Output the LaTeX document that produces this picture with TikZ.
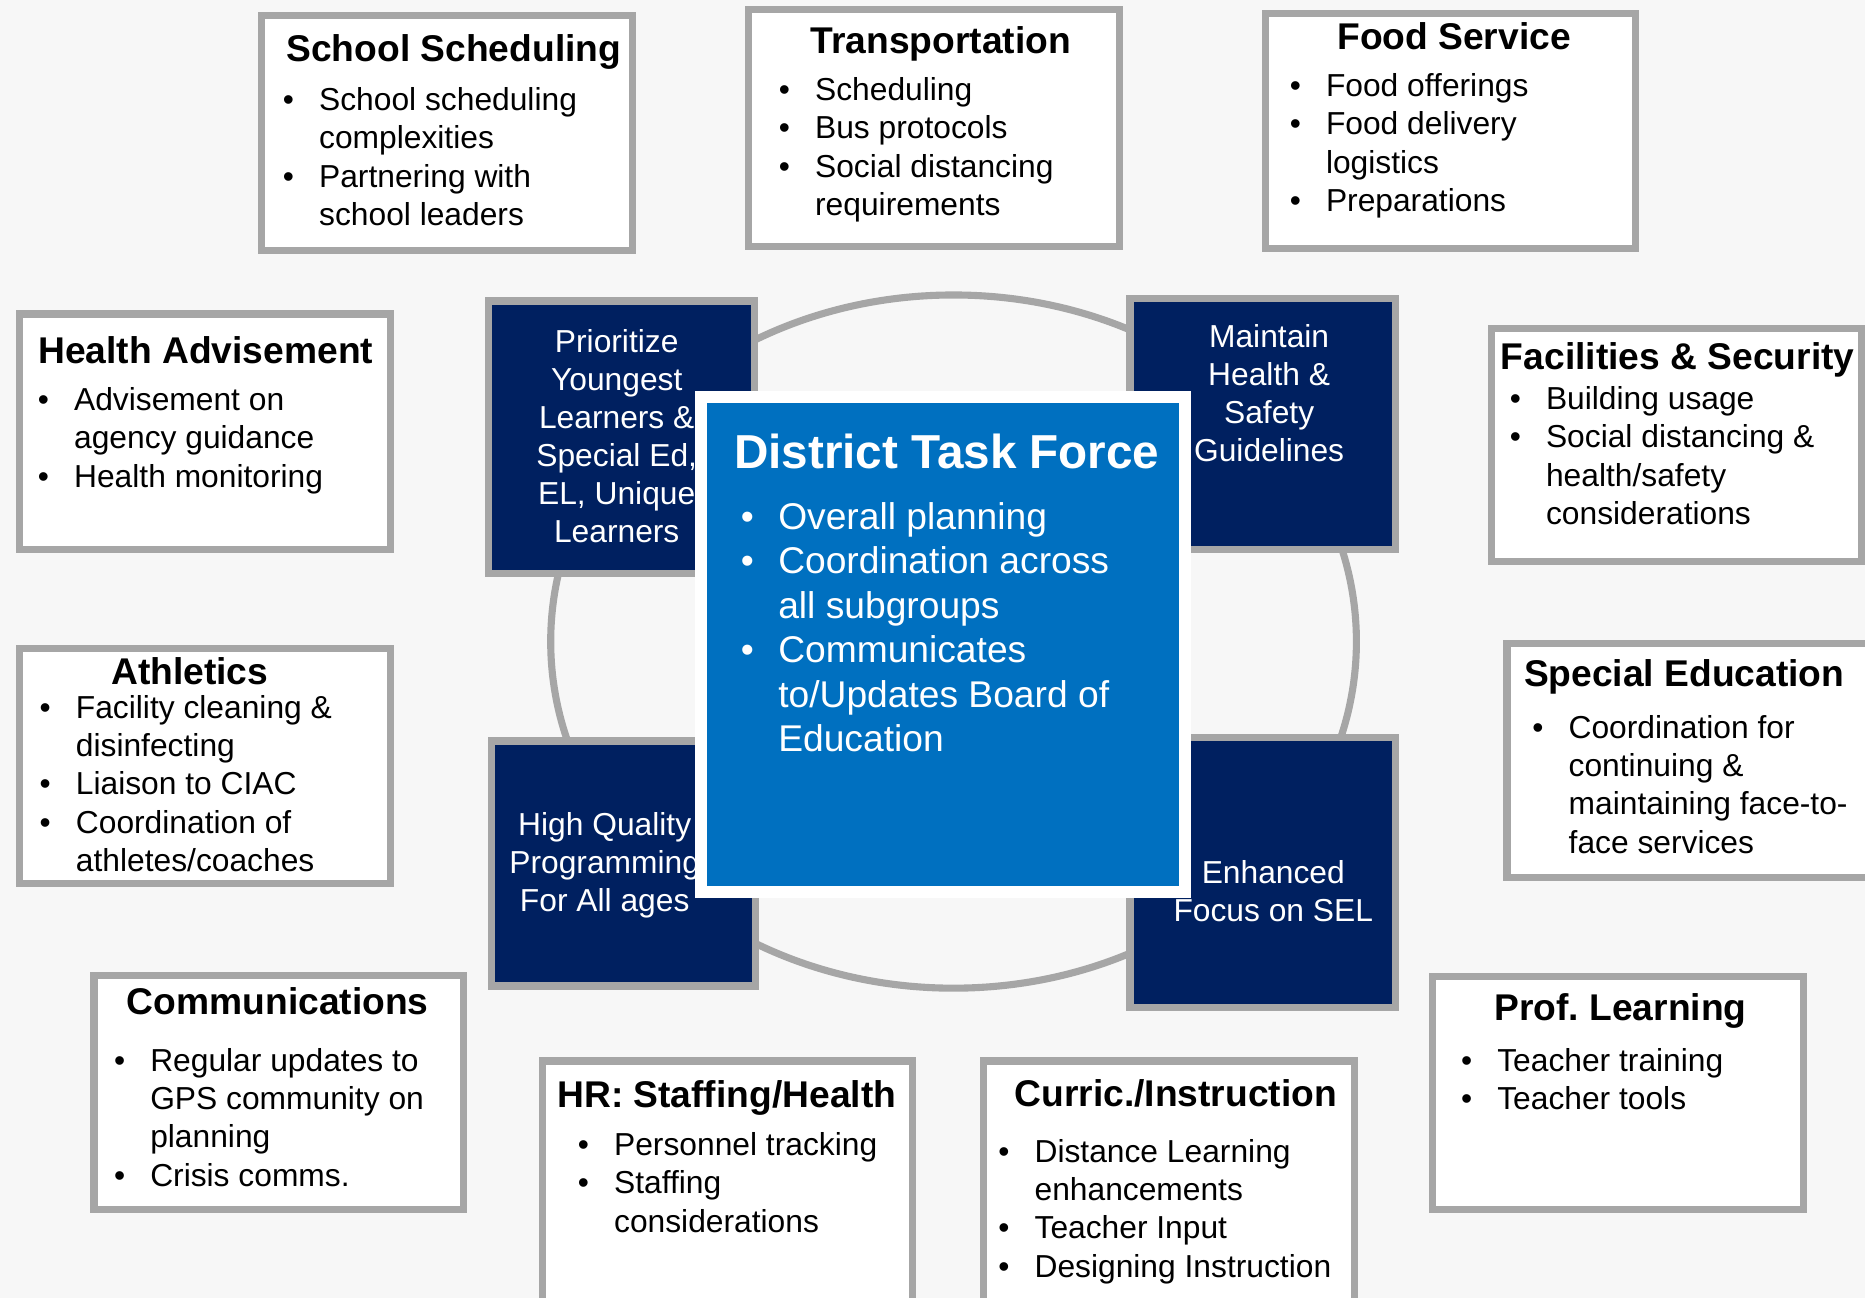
\documentclass[tikz,border=0pt]{standalone}
\usepackage{fontspec}
\setmainfont{Liberation Sans}
\frenchspacing
\definecolor{PanelGray}{HTML}{A6A6A6}
\definecolor{PageGray}{HTML}{F7F7F7}
\definecolor{TFNavy}{HTML}{002060}
\definecolor{TFBlue}{HTML}{0070C0}
\newcommand{\bulletrows}[2][0.61cm]{\begin{tabular}[t]{@{}p{#1}@{}l@{}}#2\end{tabular}}
\newcommand{\stackrows}[1]{\begin{tabular}[t]{@{}c@{}}#1\end{tabular}}
\tikzset{
    panel/.style = {draw=PanelGray, fill=white, line width=3.4pt, inner sep=0pt},
    pillar/.style = {draw=PanelGray, fill=TFNavy, line width=3.4pt, inner sep=0pt},
    core/.style = {draw=white, fill=TFBlue, line width=5.7pt, inner sep=0pt},
    head/.style = {anchor=base, inner sep=0pt, font=\fontsize{17.8}{21}\selectfont\bfseries},
    items/.style = {anchor=base west, inner sep=0pt, font=\fontsize{15.2}{18.4}\selectfont},
    pillartext/.style = {anchor=base, inner sep=0pt, text=white, font=\fontsize{15.2}{18.2}\selectfont}
}
\begin{document}
\begin{tikzpicture}[x=0.02cm, y=-0.02cm]
        \useasboundingbox (0,0) rectangle (1568,1091);
        \clip (0,0) rectangle (1568,1091);
        \fill[PageGray] (0,0) rectangle (1568,1091);
        % ring behind the four pillars
        \draw[PanelGray, line width=3.4pt] (801.7,539.4) ellipse [x radius=338.7, y radius=291.4];
        % pillars
        \node[pillar, minimum width=4.46cm, minimum height=4.58cm] (youngest) at (522.5,367.5) {};
        \node[pillartext] (youngestT) at (518.5,296) {\stackrows{Prioritize\\Youngest\\Learners \&\\Special Ed,\\EL, Unique\\Learners}};
        \node[pillar, minimum width=4.46cm, minimum height=4.22cm] (safety) at (1061.5,356.5) {};
        \node[pillartext] (safetyT) at (1067,292) {\stackrows{Maintain\\Health \&\\Safety\\Guidelines}};
        \node[pillar, minimum width=4.44cm, minimum height=4.12cm] (quality) at (524,726) {};
        \node[pillartext] (qualityT) at (508.4,702.4) {\stackrows{High Quality\\Programming\\For All ages}};
        \node[pillar, minimum width=4.46cm, minimum height=4.54cm] (sel) at (1061.5,733.5) {};
        \node[pillartext] (selT) at (1070.5,742.5) {\stackrows{Enhanced\\Focus on SEL}};
        % task force
        \node[core, minimum width=8.14cm, minimum height=8.32cm] (taskforce) at (792.5,542) {};
        \node[anchor=base, inner sep=0pt, text=white, font=\fontsize{22.8}{27}\selectfont\bfseries] (taskforceT) at (796,394) {District Task Force};
        \node[items, text=white, font=\fontsize{17.8}{21.3}\selectfont] (taskforceL) at (622.5,445) {\bulletrows[0.63cm]{\textbullet & Overall planning\\ \textbullet & Coordination across\\ & all subgroups\\ \textbullet & Communicates\\ & to/Updates Board of\\ & Education}};
        % subgroups
        \node[panel, minimum width=6.24cm, minimum height=3.96cm] (sched) at (376,112) {};
        \node[head] (schedT) at (381.5,52) {School Scheduling};
        \node[items] (schedL) at (237.5,92.7) {\bulletrows{\textbullet & School scheduling\\ & complexities\\ \textbullet & Partnering with\\ & school leaders}};
        \node[panel, minimum width=6.24cm, minimum height=3.98cm] (trans) at (785,107.5) {};
        \node[head] (transT) at (791,45) {Transportation};
        \node[items] (transL) at (654.5,84.3) {\bulletrows{\textbullet & Scheduling\\ \textbullet & Bus protocols\\ \textbullet & Social distancing\\ & requirements}};
        \node[panel, minimum width=6.22cm, minimum height=3.96cm] (food) at (1219.5,110) {};
        \node[head] (foodT) at (1222.5,42) {Food Service};
        \node[items] (foodL) at (1084,81) {\bulletrows{\textbullet & Food offerings\\ \textbullet & Food delivery\\ & logistics\\ \textbullet & Preparations}};
        \node[panel, minimum width=6.24cm, minimum height=3.96cm] (health) at (172,363) {};
        \node[head] (healthT) at (173,306) {Health Advisement};
        \node[items] (healthL) at (31.5,345) {\bulletrows{\textbullet & Advisement on\\ & agency guidance\\ \textbullet & Health monitoring}};
        \node[panel, minimum width=6.22cm, minimum height=3.92cm] (facil) at (1409.5,374) {};
        \node[head] (facilT) at (1410.5,310.5) {Facilities \& Security};
        \node[items] (facilL) at (1269,344.3) {\bulletrows{\textbullet & Building usage\\ \textbullet & Social distancing \&\\ & health/safety\\ & considerations}};
        \node[panel, minimum width=6.24cm, minimum height=3.96cm] (athl) at (172,644) {};
        \node[head] (athlT) at (159.5,575.6) {Athletics};
        \node[items] (athlL) at (33,603.7) {\bulletrows{\textbullet & Facility cleaning \&\\ & disinfecting\\ \textbullet & Liaison to CIAC\\ \textbullet & Coordination of\\ & athletes/coaches}};
        \node[panel, minimum width=6.30cm, minimum height=3.94cm] (sped) at (1424.5,639.5) {};
        \node[head] (spedT) at (1416,577.5) {Special Education};
        \node[items] (spedL) at (1288,620.5) {\bulletrows{\textbullet & Coordination for\\ & continuing \&\\ & maintaining face-to-\\ & face services}};
        \node[panel, minimum width=6.22cm, minimum height=3.94cm] (comm) at (234.5,918.5) {};
        \node[head] (commT) at (233.5,852.7) {Communications};
        \node[items] (commL) at (95.5,900.5) {\bulletrows{\textbullet & Regular updates to\\ & GPS community on\\ & planning\\ \textbullet & Crisis comms.}};
        \node[panel, minimum width=6.22cm, minimum height=4.30cm] (hr) at (611.5,999.5) {};
        \node[head] (hrT) at (611,931.2) {HR: Staffing/Health};
        \node[items] (hrL) at (485.5,971.5) {\bulletrows{\textbullet & Personnel tracking\\ \textbullet & Staffing\\ & considerations}};
        \node[panel, minimum width=6.24cm, minimum height=4.30cm] (curric) at (983,999.5) {};
        \node[head] (curricT) at (988.5,930.5) {Curric./Instruction};
        \node[items] (curricL) at (839,977) {\bulletrows{\textbullet & Distance Learning\\ & enhancements\\ \textbullet & Teacher Input\\ \textbullet & Designing Instruction}};
        \node[panel, minimum width=6.24cm, minimum height=3.92cm] (prof) at (1360,919) {};
        \node[head] (profT) at (1362.5,858.2) {Prof. Learning};
        \node[items] (profL) at (1228,900.5) {\bulletrows{\textbullet & Teacher training\\ \textbullet & Teacher tools}};
\end{tikzpicture}
\end{document}
